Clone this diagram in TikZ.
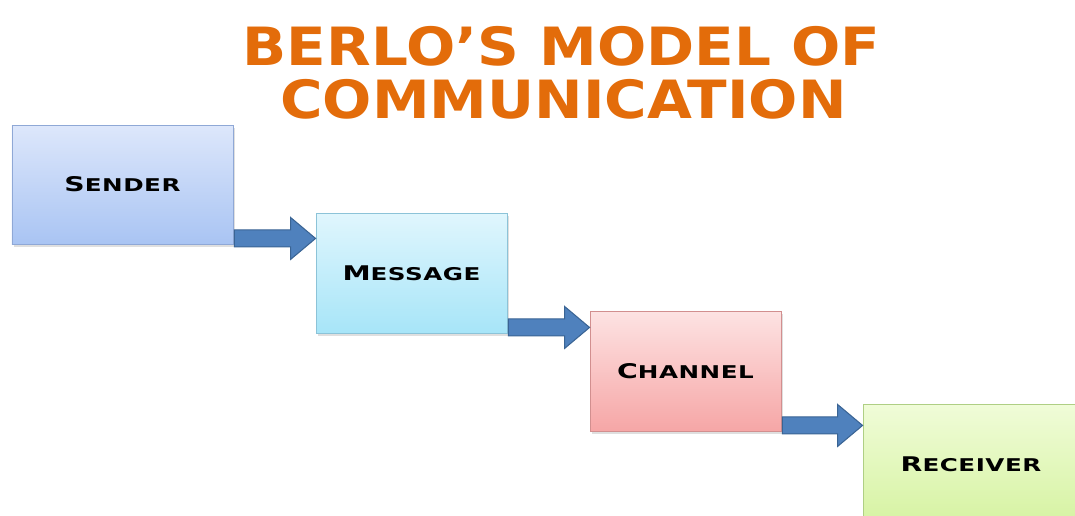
\documentclass[tikz,border=0pt]{standalone}
\usepackage{fontspec}
\usetikzlibrary{calc,shadows}
\newfontfamily\titlefont{DejaVu Sans}[FakeStretch=1.1]
\newfontfamily\boxfont{DejaVu Sans}[FakeStretch=1.4,LetterSpace=3]
\newcommand\sclabel[2]{{\fontsize{11.5}{11.5}\selectfont #1}{\fontsize{10}{10}\selectfont #2}}

\definecolor{titleorange}{HTML}{E36C0A}
\definecolor{arrowblue}{HTML}{4F81BD}
\definecolor{arrowedge}{HTML}{3A6494}
\definecolor{senderedge}{HTML}{8FA8D6}
\definecolor{sendertop}{HTML}{DDE7FB}
\definecolor{senderbot}{HTML}{A9C4F3}
\definecolor{messageedge}{HTML}{8CC3D8}
\definecolor{messagetop}{HTML}{E0F6FD}
\definecolor{messagebot}{HTML}{A7E5F8}
\definecolor{channeledge}{HTML}{D28F8F}
\definecolor{channeltop}{HTML}{FDE3E3}
\definecolor{channelbot}{HTML}{F6A6A6}
\definecolor{receiveredge}{HTML}{AFCF84}
\definecolor{receivertop}{HTML}{F0FCD8}
\definecolor{receiverbot}{HTML}{D6F3A2}

\begin{document}
\begin{tikzpicture}[
  box/.style={draw=#1edge, top color=#1top, bottom color=#1bot, line width=0.5pt,
    minimum height=2.4cm, inner sep=0pt, font=\boxfont\bfseries,
    drop shadow={opacity=0.25, shadow xshift=0.04cm, shadow yshift=-0.05cm}},
  blockarrow/.style={fill=arrowblue, draw=arrowedge, line width=0.6pt, line join=miter},
  title/.style={anchor=base, text=titleorange, font=\titlefont\bfseries\fontsize{30}{30}\selectfont}
]
\useasboundingbox (0,0) rectangle (21.5,-10.3);
\clip (0,0) rectangle (21.5,-10.3);

\node[title] (title1) at (11.23,-1.3) {BERLO’S MODEL OF};
\node[title] (title2) at (11.27,-2.36) {COMMUNICATION};

\node[box=sender, minimum width=4.42cm, minimum height=2.38cm] (sender) at (2.45,-3.69) {\sclabel{S}{ENDER}};
\node[box=message, minimum width=3.82cm] (message) at (8.23,-5.46) {\sclabel{M}{ESSAGE}};
\node[box=channel, minimum width=3.82cm] (channel) at (13.71,-7.42) {\sclabel{C}{HANNEL}};
\node[box=receiver, minimum width=4.32cm] (receiver) at (19.42,-9.28) {\sclabel{R}{ECEIVER}};

\foreach \a/\b in {sender/message, message/channel, channel/receiver}{
  \coordinate (\a-out) at ($(\a.south east)+(0.02,0.12)$);
  \coordinate (\b-in) at (\a-out -| \b.west);
  \filldraw[blockarrow] ($(\a-out)+(0,0.17)$) -- ($(\b-in)+(-0.5,0.17)$) -- ++(0,0.25)
    -- (\b-in) -- ($(\b-in)+(-0.5,-0.42)$) -- ++(0,0.25) -- ($(\a-out)+(0,-0.17)$) -- cycle;
}
\end{tikzpicture}
\end{document}
